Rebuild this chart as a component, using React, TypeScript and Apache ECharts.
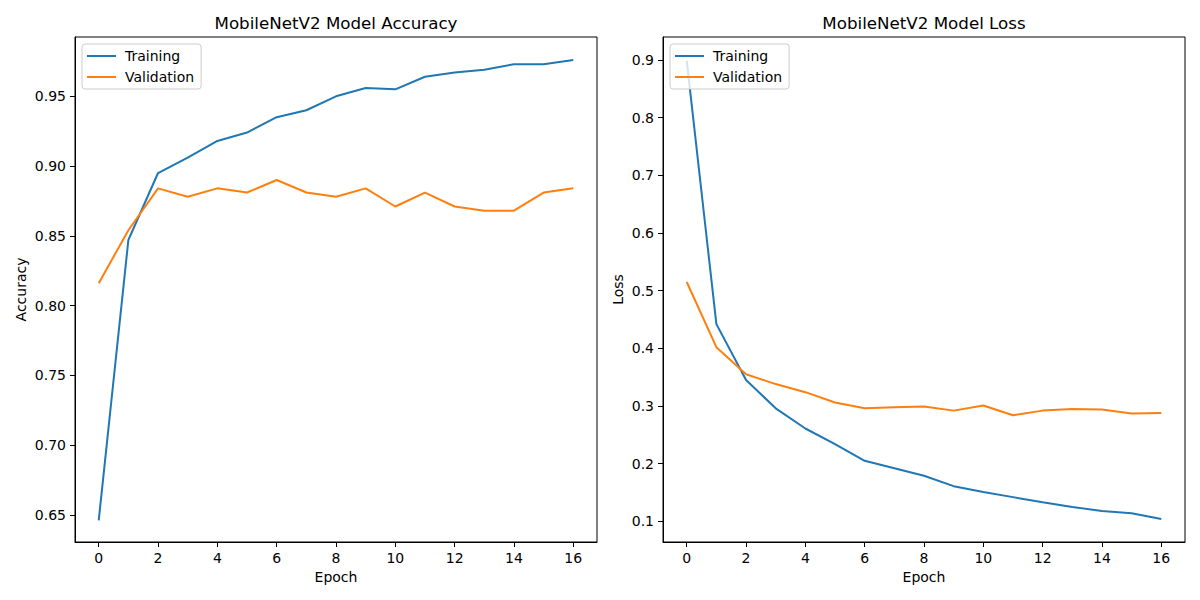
import React, { useEffect, useRef } from "react";
import * as echarts from "echarts";

const epochs = [0, 1, 2, 3, 4, 5, 6, 7, 8, 9, 10, 11, 12, 13, 14, 15, 16];
const accTrain = [0.646, 0.847, 0.895, 0.906, 0.918, 0.924, 0.935, 0.940, 0.950, 0.956, 0.955, 0.964, 0.967, 0.969, 0.973, 0.973, 0.976];
const accVal = [0.816, 0.854, 0.884, 0.878, 0.884, 0.881, 0.890, 0.881, 0.878, 0.884, 0.871, 0.881, 0.871, 0.868, 0.868, 0.881, 0.884];
const lossTrain = [0.899, 0.442, 0.345, 0.296, 0.261, 0.234, 0.205, 0.192, 0.179, 0.161, 0.151, 0.142, 0.133, 0.125, 0.118, 0.114, 0.104];
const lossVal = [0.515, 0.402, 0.355, 0.338, 0.324, 0.306, 0.296, 0.298, 0.299, 0.292, 0.301, 0.284, 0.292, 0.295, 0.294, 0.287, 0.288];
const xTicks = [0, 2, 4, 6, 8, 10, 12, 14, 16];
const accTicks = [0.65, 0.7, 0.75, 0.8, 0.85, 0.9, 0.95];
const lossTicks = [0.1, 0.2, 0.3, 0.4, 0.5, 0.6, 0.7, 0.8, 0.9];
const seriesNames = ["Training", "Validation"];
const titles = ["MobileNetV2 Model Accuracy", "MobileNetV2 Model Loss"];
const yNames = ["Accuracy", "Loss"];

const FONT = "DejaVu Sans";
const BLUE = "#1f77b4";
const ORANGE = "#ff7f0e";

function pairs(ys: number[]) {
  return epochs.map((e, i) => [e, ys[i]]);
}

export default function App() {
  const ref = useRef<HTMLDivElement>(null);
  useEffect(() => {
    document.body.style.margin = "0";
    const chart = echarts.init(ref.current!, null, { renderer: "svg" });
    const grids = [
      { left: 75, top: 37, width: 522, height: 505 },
      { left: 663, top: 37, width: 522, height: 505 },
    ];
    const mkX = (gi: number) => ({
      type: "value",
      gridIndex: gi,
      min: -0.8,
      max: 16.8,
      name: "Epoch",
      nameLocation: "middle",
      nameGap: 27,
      nameTextStyle: { fontFamily: FONT, fontSize: 14, color: "#000" },
      axisLine: { show: true, onZero: false, lineStyle: { color: "#000", width: 1 } },
      axisTick: { show: true, length: 5, lineStyle: { color: "#000" }, customValues: xTicks },
      axisLabel: { fontFamily: FONT, fontSize: 14, color: "#000", margin: 9, customValues: xTicks },
      splitLine: { show: false },
    });
    const mkY = (gi: number, min: number, max: number, ticks: number[], dec: number, gap: number) => ({
      type: "value",
      gridIndex: gi,
      min,
      max,
      name: yNames[gi],
      nameLocation: "middle",
      nameGap: gap,
      nameTextStyle: { fontFamily: FONT, fontSize: 14, color: "#000" },
      axisLine: { show: true, onZero: false, lineStyle: { color: "#000", width: 1 } },
      axisTick: { show: true, length: 5, lineStyle: { color: "#000" }, customValues: ticks },
      axisLabel: {
        fontFamily: FONT,
        fontSize: 14,
        color: "#000",
        margin: 9,
        customValues: ticks,
        formatter: (v: number) => v.toFixed(dec),
      },
      splitLine: { show: false },
    });
    const mkLegend = (left: number) => ({
      orient: "vertical",
      left,
      top: 44,
      data: seriesNames,
      icon: "rect",
      itemWidth: 29,
      itemHeight: 2,
      itemGap: 7,
      padding: [5, 7, 5, 5],
      borderColor: "#cccccc",
      borderWidth: 1,
      borderRadius: 3,
      backgroundColor: "rgba(255,255,255,0.8)",
      selectedMode: false,
      textStyle: { fontFamily: FONT, fontSize: 14, color: "#000", lineHeight: 14, padding: [0, 0, 0, 4] },
    });
    const line = (name: string, color: string, data: number[], idx: number) => ({
      type: "line",
      name,
      xAxisIndex: idx,
      yAxisIndex: idx,
      data: pairs(data),
      showSymbol: false,
      symbol: "none",
      lineStyle: { color, width: 2 },
      itemStyle: { color },
      z: 3,
    });
    const titleStyle = { fontFamily: FONT, fontSize: 16.7, fontWeight: "normal", color: "#000" };
    chart.setOption({
      animation: false,
      backgroundColor: "#fff",
      title: [
        { text: titles[0], left: 336, textAlign: "center", top: 14, padding: 0, textStyle: titleStyle },
        { text: titles[1], left: 924, textAlign: "center", top: 14, padding: 0, textStyle: titleStyle },
      ],
      grid: grids.map((g) => ({ ...g, show: true, borderColor: "#000", borderWidth: 1, backgroundColor: "transparent" })),
      xAxis: [mkX(0), mkX(1)],
      yAxis: [mkY(0, 0.6305, 0.9925, accTicks, 2, 47), mkY(1, 0.0642, 0.9398, lossTicks, 1, 38)],
      legend: [mkLegend(82), mkLegend(670)],
      series: [
        line(seriesNames[0], BLUE, accTrain, 0),
        line(seriesNames[1], ORANGE, accVal, 0),
        line(seriesNames[0], BLUE, lossTrain, 1),
        line(seriesNames[1], ORANGE, lossVal, 1),
      ],
    });
    return () => chart.dispose();
  }, []);
  return <div ref={ref} style={{ width: 1200, height: 600 }} />;
}
